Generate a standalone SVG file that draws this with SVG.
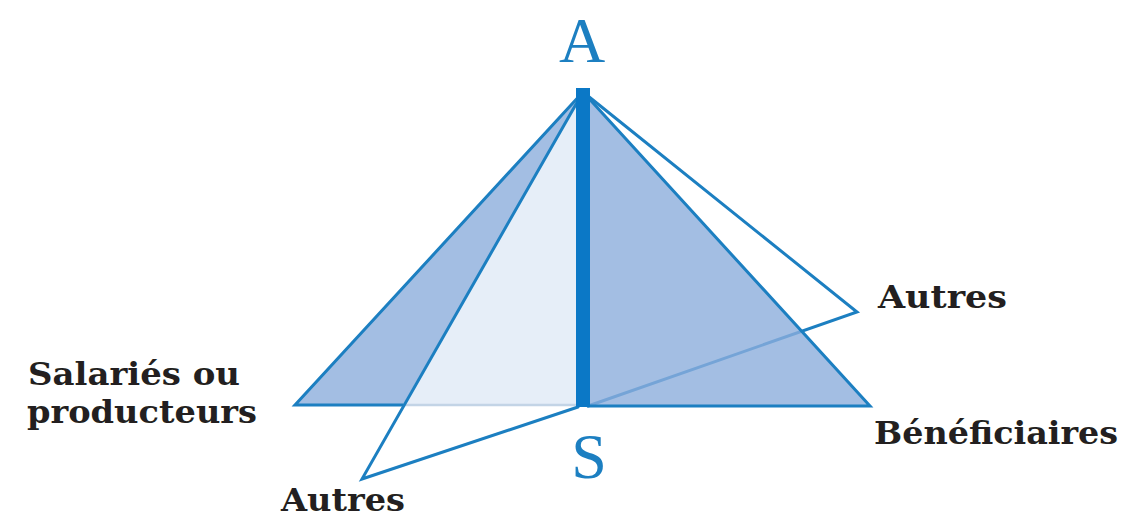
<svg xmlns="http://www.w3.org/2000/svg" width="1128" height="520" viewBox="0 0 1128 520">
  <style>
    .edge { fill: none; stroke: #1c7fc1; stroke-width: 3; stroke-linejoin: miter; stroke-linecap: round; }
    .faint { fill: none; stroke: #c3d4e6; stroke-width: 2.5; }
    .lbl { font-family: "DejaVu Serif", "Liberation Serif", serif; font-weight: bold; font-size: 31px; fill: #231f20; }
    .pt { font-family: "Liberation Serif", "DejaVu Serif", serif; font-size: 64px; fill: #1c7fc1; text-anchor: middle; }
  </style>
  <rect width="1128" height="520" fill="#ffffff"/>
  <g id="left-face">
    <polygon points="583,92 403,405 577,405" fill="#e6eef8"/>
    <polygon points="583,92 295,405 403,405" fill="#a3bee3"/>
  </g>
  <g id="right-autres-face">
    <polyline class="edge" points="583,92 857,312 588,406"/>
  </g>
  <g id="right-face">
    <polygon points="583,92 588,406 870,406" fill="#8caedc" fill-opacity="0.8"/>
  </g>
  <g id="connectors">
    <polyline class="edge" points="583,92 295,405 403,405"/>
    <line class="faint" x1="403" y1="405" x2="577" y2="405"/>
    <polyline class="edge" points="583,92 362,479 578,407"/>
    <polyline class="edge" points="583,92 870,406 588,406"/>
  </g>
  <g id="axis">
    <rect x="576" y="88" width="14" height="319" fill="#0b78c6"/>
  </g>
  <g id="node-A"><text class="pt" x="582" y="62">A</text></g>
  <g id="node-S"><text class="pt" x="589" y="478">S</text></g>
  <g id="node-salaries">
    <text class="lbl" x="28" y="385" textLength="212" lengthAdjust="spacingAndGlyphs">Salariés ou</text>
    <text class="lbl" x="27" y="423" textLength="230" lengthAdjust="spacingAndGlyphs">producteurs</text>
  </g>
  <g id="node-beneficiaires"><text class="lbl" x="874" y="444" textLength="244" lengthAdjust="spacingAndGlyphs">Bénéficiaires</text></g>
  <g id="node-autres-right"><text class="lbl" x="878" y="308" textLength="129" lengthAdjust="spacingAndGlyphs">Autres</text></g>
  <g id="node-autres-bottom"><text class="lbl" x="281" y="511" textLength="124" lengthAdjust="spacingAndGlyphs">Autres</text></g>
</svg>
